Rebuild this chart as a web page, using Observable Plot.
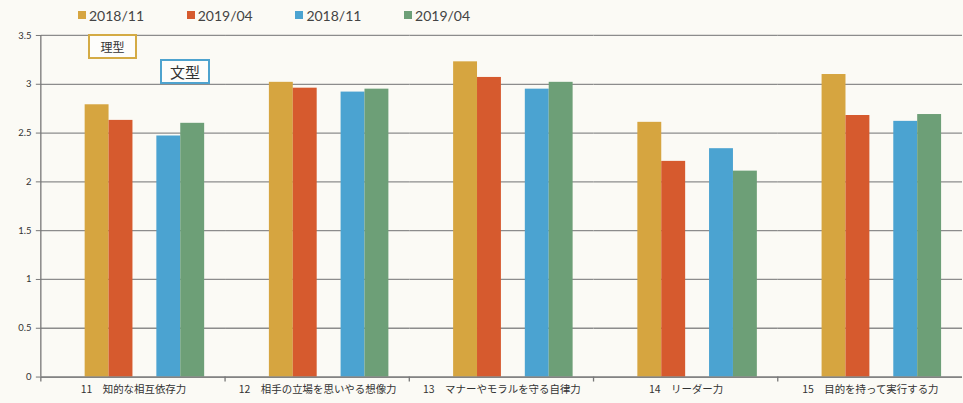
<!DOCTYPE html>
<html><head><meta charset="utf-8">
<script src="https://cdn.jsdelivr.net/npm/d3@7"></script>
<script src="https://cdn.jsdelivr.net/npm/@observablehq/plot@0.6"></script>
<style>
body{margin:0;background:#fbfaf5;overflow:hidden;}
#wrap{position:relative;width:963px;height:403px;overflow:hidden;background:#fbfaf5;}
#legend{position:absolute;top:0;left:78px;height:30px;display:flex;align-items:center;font-family:Lato,"DejaVu Sans",sans-serif;font-size:14px;color:#444;}
#legend .item{width:108.7px;display:flex;align-items:center;}
#legend .sw{width:8px;height:8px;margin-right:3px;}
#chart{position:absolute;top:30px;left:0;}
.tag{position:absolute;box-sizing:border-box;background:#fdfdfb;display:flex;align-items:center;justify-content:center;font-family:"Noto Sans CJK JP",sans-serif;color:#333;}
</style>
</head><body>
<div id="wrap">
  <div id="legend"></div>
  <div id="chart"></div>
  <div class="tag" id="tagR" style="left:88px;top:34px;width:49px;height:25px;border:2px solid #d4ab45;font-size:12px;">理型</div>
  <div class="tag" id="tagB" style="left:160px;top:59px;width:50px;height:25px;border:2px solid #4ea3cf;font-size:15px;">文型</div>
</div>
<script>
const categories = [
  "11　知的な相互依存力",
  "12　相手の立場を思いやる想像力",
  "13　マナーやモラルを守る自律力",
  "14　リーダー力",
  "15　目的を持って実行する力"
];
const seriesKeys = ["理型 2018/11", "理型 2019/04", "文型 2018/11", "文型 2019/04"];
const legendLabels = ["2018/11", "2019/04", "2018/11", "2019/04"];
const seriesColors = ["#d6a540", "#d65a2e", "#4ba3d1", "#6d9f77"];
const rikei201811 = [2.79, 3.02, 3.23, 2.61, 3.10];
const rikei201904 = [2.63, 2.96, 3.07, 2.21, 2.68];
const bunkei201811 = [2.47, 2.92, 2.95, 2.34, 2.62];
const bunkei201904 = [2.60, 2.95, 3.02, 2.11, 2.69];
const yTicks = [0, 0.5, 1, 1.5, 2, 2.5, 3, 3.5];

const seriesValues = [rikei201811, rikei201904, bunkei201811, bunkei201904];
const slots = [seriesKeys[0], seriesKeys[1], "gap", seriesKeys[2], seriesKeys[3]];
const data = categories.flatMap((c, i) =>
  seriesKeys.map((s, j) => ({category: c, series: s, value: seriesValues[j][i]})));

// legend
const leg = d3.select("#legend");
legendLabels.forEach((t, i) => {
  const it = leg.append("div").attr("class", "item");
  it.append("div").attr("class", "sw").style("background", seriesColors[i]);
  it.append("span").text(t);
});

const plot = Plot.plot({
  width: 967, height: 373,
  marginTop: 5, marginBottom: 25, marginLeft: 40, marginRight: 0,
  style: {background: "transparent", fontFamily: "'Noto Sans CJK JP', sans-serif", color: "#333"},
  fx: {domain: categories, padding: 0, label: null},
  x: {domain: slots, paddingInner: 0, paddingOuter: 1.284, align: 0.684, axis: null},
  y: {domain: [0, 3.5], label: null},
  color: {domain: seriesKeys, range: seriesColors},
  marks: [
    Plot.gridY(yTicks, {stroke: "#8c8c8c", strokeOpacity: 1, strokeWidth: 1.3}),
    Plot.axisY(yTicks, {tickSize: 5, tickPadding: 5, fontSize: 9.5, stroke: "#777", tickFormat: d => String(d), fontFamily: "Lato, sans-serif"}),
    Plot.axisFx({anchor: "bottom", tickSize: 0, tickPadding: 9, fontSize: 10.5, label: null}),
    Plot.barY(data, {fx: "category", x: "series", y: "value", fill: "series", inset: 0}),
    Plot.ruleY([0], {stroke: "#777", strokeWidth: 1.3})
  ]
});
document.getElementById("chart").appendChild(plot);

// axis line and category boundary ticks drawn from the plot's own scales
const fx = plot.scale("fx"), y = plot.scale("y");
const svg = d3.select(plot);
const g = svg.append("g").attr("stroke", "#777").attr("stroke-width", 1.3);
const x0 = fx.apply(categories[0]);
g.append("line").attr("x1", x0).attr("x2", x0).attr("y1", y.apply(3.5)).attr("y2", y.apply(0));
categories.forEach(c => {
  const xs = fx.apply(c);
  g.append("line").attr("x1", xs).attr("x2", xs).attr("y1", y.apply(0)).attr("y2", y.apply(0) + 5);
});
</script>
</body></html>
